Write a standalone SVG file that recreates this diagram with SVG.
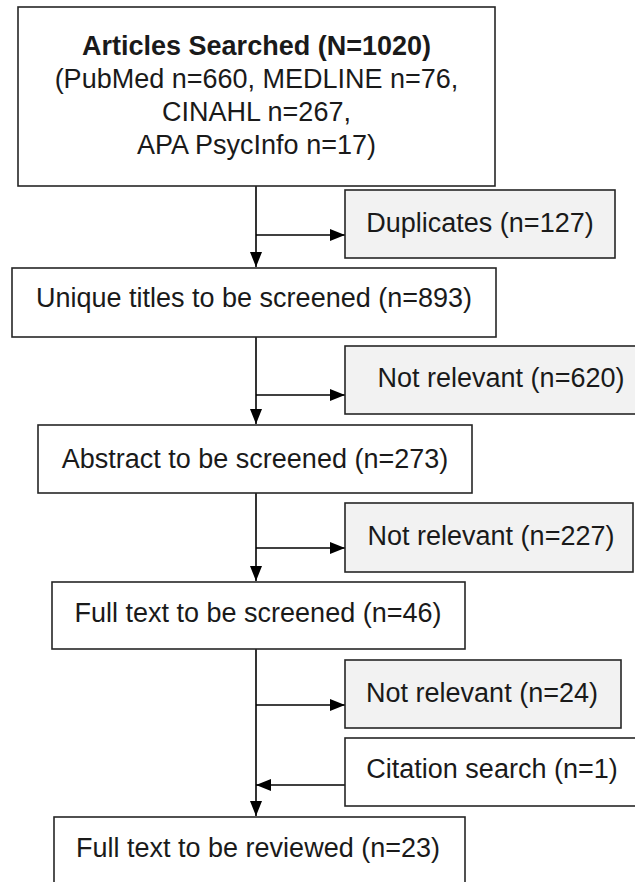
<svg xmlns="http://www.w3.org/2000/svg" width="635" height="882" viewBox="0 0 635 882">
<defs>
<style>
.box{fill:#ffffff;stroke:#262626;stroke-width:1.6}
.gbox{fill:#f2f2f2;stroke:#262626;stroke-width:1.6}
.t{font-family:"Liberation Sans",Arial,sans-serif;font-size:27px;fill:#1a1a1a;text-anchor:middle}
.b{font-weight:bold}
.ln{stroke:#000;stroke-width:1.6;fill:none}
</style>
<marker id="ah" viewBox="0 0 15 12" refX="15" refY="6" markerWidth="15" markerHeight="12" markerUnits="userSpaceOnUse" orient="auto">
<path d="M0,0 L15,6 L0,12 Z" fill="#000"/>
</marker>
</defs>
<rect width="635" height="882" fill="#fff"/>
<g id="connectors">
<line class="ln" x1="256" y1="186" x2="256" y2="267" marker-end="url(#ah)"/>
<line class="ln" x1="256" y1="235" x2="345" y2="235" marker-end="url(#ah)"/>
<line class="ln" x1="256" y1="337" x2="256" y2="424" marker-end="url(#ah)"/>
<line class="ln" x1="256" y1="395" x2="345" y2="395" marker-end="url(#ah)"/>
<line class="ln" x1="256" y1="493" x2="256" y2="581" marker-end="url(#ah)"/>
<line class="ln" x1="256" y1="548" x2="345" y2="548" marker-end="url(#ah)"/>
<line class="ln" x1="256" y1="649" x2="256" y2="816" marker-end="url(#ah)"/>
<line class="ln" x1="256" y1="705" x2="345" y2="705" marker-end="url(#ah)"/>
<line class="ln" x1="345" y1="785" x2="256" y2="785" marker-end="url(#ah)"/>
</g>
<g id="n-articles">
<rect class="box" x="18" y="7" width="477" height="179"/>
<text class="t b" x="256.5" y="55">Articles Searched (N=1020)</text>
<text class="t" x="256.5" y="88">(PubMed n=660, MEDLINE n=76,</text>
<text class="t" x="256.5" y="121">CINAHL n=267,</text>
<text class="t" x="256.5" y="154">APA PsycInfo n=17)</text>
</g>
<g id="n-duplicates">
<rect class="gbox" x="345" y="190" width="270" height="68"/>
<text class="t" x="480" y="232">Duplicates (n=127)</text>
</g>
<g id="n-unique">
<rect class="box" x="12" y="268" width="484" height="69"/>
<text class="t" x="254" y="307">Unique titles to be screened (n=893)</text>
</g>
<g id="n-notrel620">
<rect class="gbox" x="345" y="346" width="300" height="68"/>
<text class="t" x="501" y="387">Not relevant (n=620)</text>
</g>
<g id="n-abstract">
<rect class="box" x="38" y="425" width="434" height="68"/>
<text class="t" x="255" y="468">Abstract to be screened (n=273)</text>
</g>
<g id="n-notrel227">
<rect class="gbox" x="345" y="503" width="288" height="69"/>
<text class="t" x="491" y="545">Not relevant (n=227)</text>
</g>
<g id="n-fulltext">
<rect class="box" x="52" y="582" width="413" height="67"/>
<text class="t" x="258" y="622">Full text to be screened (n=46)</text>
</g>
<g id="n-notrel24">
<rect class="gbox" x="345" y="660" width="276" height="68"/>
<text class="t" x="482" y="702">Not relevant (n=24)</text>
</g>
<g id="n-citation">
<rect class="box" x="345" y="738" width="300" height="68"/>
<text class="t" x="492" y="778">Citation search (n=1)</text>
</g>
<g id="n-reviewed">
<rect class="box" x="54" y="817" width="411" height="90"/>
<text class="t" x="258" y="857">Full text to be reviewed (n=23)</text>
</g>
</svg>
